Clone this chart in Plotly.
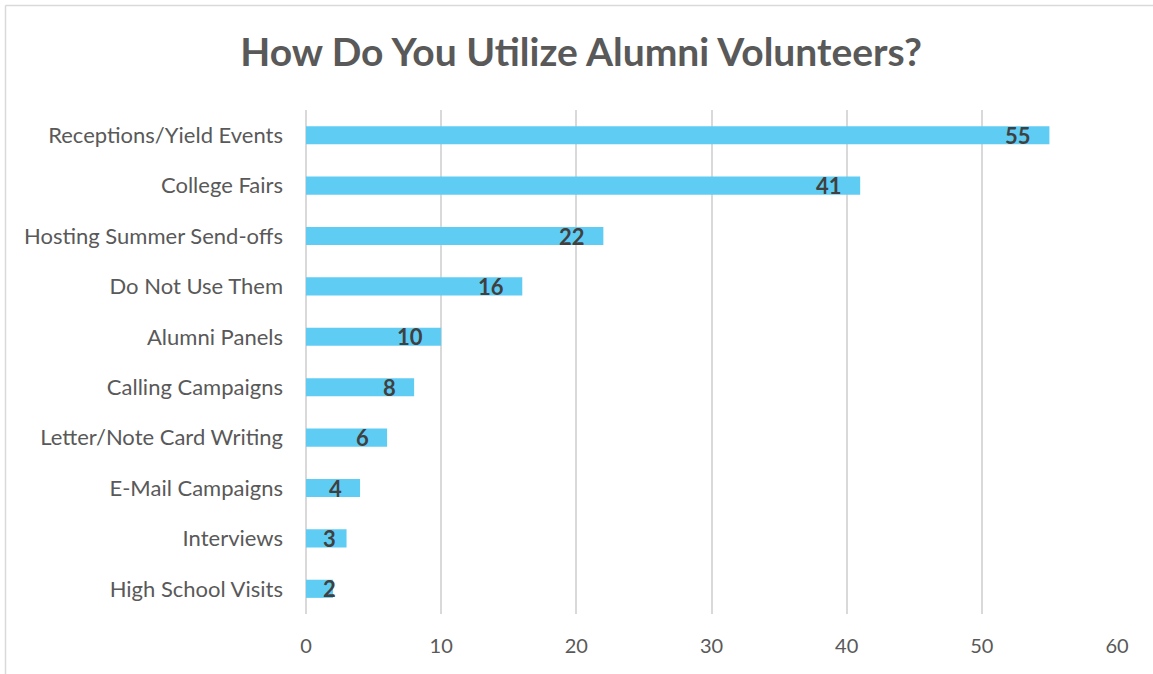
import plotly.graph_objects as go

categories = [
    "Receptions/Yield Events",
    "College Fairs",
    "Hosting Summer Send-offs",
    "Do Not Use Them",
    "Alumni Panels",
    "Calling Campaigns",
    "Letter/Note Card Writing",
    "E-Mail Campaigns",
    "Interviews",
    "High School Visits",
]
counts = [55, 41, 22, 16, 10, 8, 6, 4, 3, 2]
x_ticks = [0, 10, 20, 30, 40, 50, 60]

W, H = 1153, 674
M_L, M_R, M_T, M_B = 306, 36, 110, 60
PW, PH = W - M_L - M_R, H - M_T - M_B
X_MAX = 60
px_per_unit = PW / X_MAX

FONT = "Lato"
BAR = "#5FCCF4"
GRID = "#D9D9D9"

fig = go.Figure(
    go.Bar(
        y=categories,
        x=counts,
        orientation="h",
        marker=dict(color=BAR, line=dict(width=0)),
        hoverinfo="x+y",
    )
)

# value labels at the inside end of each bar; short bars keep the label near the axis
annotations = []
for cat, v in zip(categories, counts):
    if v * px_per_unit < 45:
        annotations.append(dict(x=0, y=cat, xref="x", yref="y", text=f"<b>{v}</b>",
                                showarrow=False, xanchor="left", xshift=15,
                                font=dict(family=FONT, size=22, color="#404040")))
    else:
        annotations.append(dict(x=v, y=cat, xref="x", yref="y", text=f"<b>{v}</b>",
                                showarrow=False, xanchor="right", xshift=-16,
                                font=dict(family=FONT, size=22, color="#404040")))

def px_to_paper_x(px):
    return (px - M_L) / PW

def px_to_paper_y(py):
    return (H - M_B - py) / PH

# chart frame (left and top edges visible)
shapes = [
    dict(type="line", xref="paper", yref="paper",
         x0=px_to_paper_x(5.5), x1=px_to_paper_x(5.5),
         y0=px_to_paper_y(5.5), y1=px_to_paper_y(H + 10),
         line=dict(color=GRID, width=1.5)),
    dict(type="line", xref="paper", yref="paper",
         x0=px_to_paper_x(5.5), x1=px_to_paper_x(W + 10),
         y0=px_to_paper_y(5.5), y1=px_to_paper_y(5.5),
         line=dict(color=GRID, width=1.5)),
]

fig.update_layout(
    width=W, height=H,
    margin=dict(l=M_L, r=M_R, t=M_T, b=M_B, pad=0),
    paper_bgcolor="white", plot_bgcolor="white",
    bargap=0.64,
    showlegend=False,
    title=dict(text="<b>How Do You Utilize Alumni Volunteers?</b>",
               x=0.504, xanchor="center", xref="container", y=1 - 52 / H, yanchor="middle",
               font=dict(family=FONT, size=39, color="#595959")),
    annotations=annotations,
    shapes=shapes,
    xaxis=dict(range=[0, X_MAX], tickvals=x_ticks, showgrid=True, gridcolor=GRID, gridwidth=1.5,
               zeroline=True, zerolinecolor=GRID, zerolinewidth=1.5, showline=False,
               ticks="", ticklabelstandoff=18,
               tickfont=dict(family=FONT, size=20, color="#595959"), fixedrange=True),
    yaxis=dict(categoryorder="array", categoryarray=categories[::-1], autorange=True,
               showgrid=False, zeroline=False, showline=False, ticks="",
               ticklabelstandoff=22,
               tickfont=dict(family=FONT, size=22, color="#595959"), fixedrange=True),
)

fig.write_html("out.html")
